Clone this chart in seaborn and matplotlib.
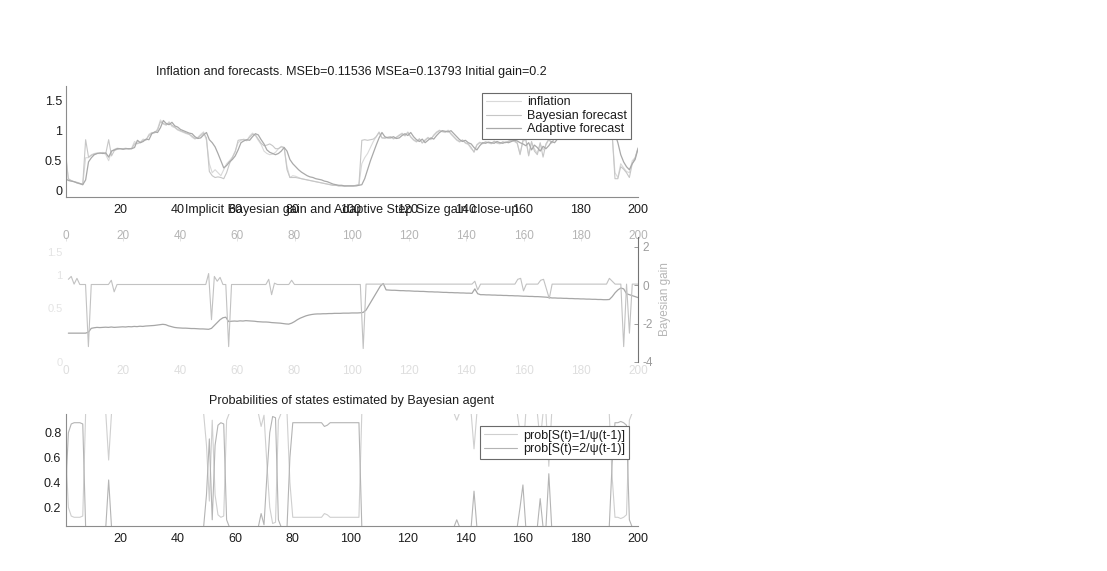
import matplotlib
matplotlib.use("Agg")
import matplotlib.pyplot as plt
import seaborn as sns

# ---------------------------------------------------------------- data
t = list(range(1, 201))

inflation = [
    0.68, 0.18, 0.16, 0.15, 0.13, 0.11, 0.10, 0.55, 0.55, 0.60, 0.62, 0.63, 0.62, 0.64, 0.60, 0.50, 0.66, 0.69, 0.71, 0.70,
    0.70, 0.71, 0.69, 0.71, 0.82, 0.78, 0.81, 0.86, 0.84, 0.94, 0.97, 0.96, 1.03, 1.18, 1.11,
    1.09, 1.15, 1.07, 1.05, 1.01, 0.99, 0.97, 0.95, 0.94, 0.89, 0.86, 0.89, 0.94, 0.98, 0.84, 0.45, 0.30, 0.35,
    0.30, 0.25, 0.35, 0.45, 0.50, 0.56, 0.66, 0.80, 0.84,
    0.86, 0.83, 0.91, 0.96, 0.92, 0.84, 0.77, 0.66, 0.62, 0.60, 0.61, 0.64, 0.70, 0.74, 0.72, 0.40, 0.22, 0.25,
    0.24, 0.22, 0.20, 0.19, 0.18, 0.17, 0.16, 0.15, 0.14, 0.13, 0.12, 0.11, 0.10, 0.09, 0.09, 0.08, 0.08, 0.07, 0.08, 0.08,
    0.08, 0.09, 0.10, 0.45,
    0.55, 0.62, 0.72, 0.82, 0.90, 0.98, 0.88,
    0.87, 0.89, 0.90, 0.86, 0.89, 0.93, 0.96, 0.91, 0.98, 0.89, 0.84, 0.81, 0.87, 0.79, 0.85, 0.89, 0.85, 0.93, 0.98,
    1.01, 0.98, 0.97, 1.01, 0.94, 0.89, 0.84, 0.81, 0.85, 0.79, 0.77, 0.70, 0.66, 0.77, 0.81,
    0.78, 0.82, 0.80, 0.78, 0.83, 0.79, 0.78, 0.82, 0.80, 0.83, 0.85, 0.82, 0.79, 0.62, 0.82,
    0.85, 0.60, 0.80, 0.70, 0.62, 0.78, 0.68, 0.76, 0.85, 0.79, 0.88, 0.89, 0.86, 0.91, 0.93,
    0.89, 0.94, 0.96, 0.93, 0.97, 0.94, 0.98, 0.95, 0.94, 0.93, 0.96, 0.92, 0.95, 0.96, 0.97, 0.94, 0.30,
    0.22, 0.45, 0.38, 0.32, 0.30, 0.50, 0.55, 0.72,
]

bayes_forecast = [
    0.60, 0.20, 0.17, 0.15, 0.14, 0.12, 0.11, 0.85, 0.56, 0.59, 0.61, 0.62, 0.62, 0.63, 0.62, 0.85, 0.58, 0.67, 0.69, 0.70,
    0.70, 0.70, 0.70, 0.70, 0.78, 0.79, 0.80, 0.84, 0.85, 0.92, 0.96, 0.97, 1.01, 1.15, 1.12,
    1.10, 1.13, 1.09, 1.06, 1.02, 1.00, 0.98, 0.96, 0.94, 0.91, 0.87, 0.88, 0.92, 0.96, 0.88, 0.32, 0.25, 0.22,
    0.23, 0.22, 0.20, 0.30, 0.45, 0.55, 0.65, 0.84, 0.85,
    0.85, 0.84, 0.89, 0.94, 0.93, 0.86, 0.79, 0.75, 0.76, 0.78, 0.75, 0.70, 0.70, 0.73, 0.72, 0.35, 0.22, 0.22,
    0.22, 0.21, 0.20, 0.19, 0.18, 0.17, 0.16, 0.15, 0.14, 0.13, 0.12, 0.11, 0.10, 0.09, 0.09, 0.08, 0.08, 0.08, 0.08, 0.08,
    0.08, 0.09, 0.10, 0.84,
    0.85, 0.84, 0.85, 0.86, 0.90, 0.97, 0.88,
    0.88, 0.89, 0.90, 0.87, 0.89, 0.92, 0.95, 0.92, 0.97, 0.90, 0.85, 0.82, 0.86, 0.80, 0.84, 0.88, 0.86, 0.92, 0.97,
    1.00, 0.99, 0.98, 1.00, 0.95, 0.90, 0.85, 0.82, 0.84, 0.80, 0.78, 0.72, 0.64, 0.76, 0.80,
    0.79, 0.81, 0.80, 0.79, 0.82, 0.80, 0.79, 0.81, 0.80, 0.82, 0.84, 0.83, 0.80, 0.60, 0.84,
    0.86, 0.58, 0.82, 0.66, 0.60, 0.80, 0.56, 0.78, 0.86, 0.80, 0.87, 0.88, 0.87, 0.90, 0.92,
    0.90, 0.93, 0.95, 0.94, 0.96, 0.95, 0.97, 0.96, 0.95, 0.94, 0.95, 0.93, 0.94, 0.95, 0.96, 0.95, 0.20,
    0.20, 0.40, 0.36, 0.30, 0.22, 0.45, 0.55, 0.70,
]

adaptive_forecast = [
    0.20, 0.17, 0.16, 0.15, 0.13, 0.12, 0.10, 0.18, 0.48, 0.55, 0.60, 0.62, 0.63, 0.62, 0.63, 0.56, 0.66, 0.68, 0.70, 0.70,
    0.69, 0.70, 0.70, 0.70, 0.72, 0.84, 0.80, 0.82, 0.86, 0.85, 0.95, 0.98, 0.97, 1.05, 1.17,
    1.12, 1.10, 1.14, 1.08, 1.06, 1.02, 1.00, 0.98, 0.96, 0.95, 0.90, 0.87, 0.88, 0.93, 0.97, 0.85, 0.80, 0.73,
    0.62, 0.50, 0.38, 0.42, 0.48, 0.52, 0.58, 0.68, 0.80,
    0.83, 0.85, 0.84, 0.90, 0.95, 0.93, 0.85, 0.78, 0.68, 0.64, 0.62, 0.60, 0.62, 0.66, 0.72, 0.66, 0.52, 0.45,
    0.40, 0.35, 0.31, 0.28, 0.25, 0.23, 0.22, 0.20, 0.19, 0.18, 0.16, 0.15, 0.13, 0.11, 0.10, 0.09, 0.09, 0.08, 0.08, 0.08,
    0.08, 0.08, 0.09, 0.10,
    0.20, 0.35, 0.50, 0.63, 0.76, 0.88, 0.97,
    0.90, 0.88, 0.88, 0.90, 0.87, 0.88, 0.92, 0.95, 0.92, 0.97, 0.90, 0.85, 0.82, 0.86, 0.80, 0.84, 0.88, 0.86, 0.92,
    0.97, 1.00, 0.99, 0.98, 1.00, 0.95, 0.90, 0.85, 0.82, 0.84, 0.80, 0.78, 0.72, 0.68, 0.75,
    0.80, 0.79, 0.81, 0.80, 0.79, 0.82, 0.80, 0.79, 0.81, 0.80, 0.82, 0.84, 0.83, 0.80, 0.78,
    0.75, 0.80, 0.68, 0.76, 0.72, 0.66, 0.74, 0.70, 0.75, 0.82, 0.80, 0.86, 0.88, 0.87, 0.90,
    0.92, 0.90, 0.93, 0.95, 0.94, 0.96, 0.95, 0.97, 0.96, 0.95, 0.94, 0.95, 0.93, 0.94, 0.95, 0.96, 0.95,
    0.80, 0.60, 0.48, 0.40, 0.35, 0.45, 0.52, 0.70,
]

# adaptive step-size gain, log10 units (left, faint axis of the close-up)
adaptive_gain_log = [
    -2.50, -2.50, -2.50, -2.50, -2.50, -2.50, -2.50, -2.45, -2.25,
    -2.22, -2.20, -2.21, -2.20, -2.19, -2.20, -2.18, -2.20, -2.19, -2.18, -2.17, -2.18, -2.16, -2.17, -2.15, -2.16, -2.14,
    -2.15, -2.13, -2.12, -2.11,
    -2.10, -2.08, -2.06, -2.04, -2.06, -2.12, -2.16, -2.20, -2.22, -2.23,
    -2.24, -2.24, -2.25, -2.26, -2.26, -2.27, -2.28, -2.28, -2.29, -2.30,
    -2.25, -2.10, -1.95, -1.80, -1.70, -1.67,
    -1.90, -1.88, -1.87, -1.88, -1.86, -1.87, -1.85, -1.86, -1.87, -1.88, -1.90, -1.91, -1.92, -1.92, -1.93,
    -1.95, -1.96, -1.97, -1.98, -2.00, -2.02, -2.03, -1.98, -1.90,
    -1.80, -1.72, -1.66, -1.60, -1.56, -1.53, -1.51, -1.50, -1.50, -1.49,
    -1.49, -1.48, -1.48, -1.47, -1.47, -1.47, -1.46, -1.46, -1.46, -1.45, -1.45, -1.45, -1.44, -1.42,
    -1.30, -1.05, -0.80, -0.55, -0.30, -0.05, 0.08,
    -0.25, -0.26, -0.27, -0.27, -0.28, -0.29, -0.29, -0.30, -0.30, -0.31, -0.32, -0.32, -0.33, -0.33, -0.34, -0.35,
    -0.35, -0.36, -0.36, -0.37, -0.38, -0.38, -0.39, -0.39, -0.40, -0.40, -0.41, -0.41, -0.42, -0.42, -0.43,
    -0.20, -0.45, -0.50,
    -0.50, -0.51, -0.51, -0.52, -0.52, -0.53, -0.53, -0.54, -0.54, -0.55, -0.55, -0.56, -0.56, -0.57, -0.58, -0.58,
    -0.59, -0.59, -0.60, -0.60, -0.61, -0.62, -0.63, -0.65, -0.67,
    -0.67, -0.68, -0.68, -0.69, -0.69, -0.70, -0.70, -0.71, -0.71, -0.72, -0.72, -0.73, -0.73, -0.74, -0.74, -0.75,
    -0.75, -0.76, -0.76, -0.75, -0.60, -0.40,
    -0.25, -0.15, -0.20, -0.45, -0.50, -0.55, -0.60, -0.65,
]

# implicit Bayesian gain (right axis of the close-up)
bayes_gain = [
    0.30, 0.45, 0.05, 0.35, 0.03, 0.03, 0.03, -3.20,
    0.03, 0.03, 0.03, 0.03, 0.03, 0.03, 0.03,
    0.25, -0.35, 0.03,
    0.03, 0.03, 0.03, 0.03, 0.03, 0.03, 0.03, 0.03, 0.03, 0.03, 0.03, 0.03, 0.03, 0.03, 0.03, 0.03,
    0.03, 0.03, 0.03, 0.03, 0.03, 0.03, 0.03, 0.03, 0.03, 0.03, 0.03, 0.03, 0.03, 0.03, 0.03,
    0.60, -1.80, 0.45, 0.20, 0.40, 0.03, 0.03, -3.20, 0.03,
    0.03, 0.03, 0.03, 0.03, 0.03, 0.03, 0.03, 0.03, 0.03, 0.03, 0.03, 0.03,
    0.30, -0.50, 0.10, 0.03,
    0.03, 0.03, 0.03, 0.03,
    0.25, 0.03,
    0.03, 0.03, 0.03, 0.03, 0.03, 0.03, 0.03, 0.03, 0.03, 0.03, 0.03, 0.03, 0.03, 0.03, 0.03, 0.03,
    0.03, 0.03, 0.03, 0.03, 0.03, 0.03, 0.03,
    -3.30,
    0.05, 0.05, 0.05, 0.05, 0.05, 0.05, 0.05, 0.05, 0.05, 0.05, 0.05, 0.05, 0.05, 0.05, 0.05, 0.05, 0.05, 0.05, 0.05,
    0.05, 0.05, 0.05, 0.05, 0.05, 0.05, 0.05, 0.05, 0.05, 0.05, 0.05, 0.05, 0.05, 0.05, 0.05, 0.05, 0.05, 0.05, 0.05,
    0.20, -0.25, 0.05,
    0.05, 0.05, 0.05, 0.05, 0.05, 0.05, 0.05, 0.05, 0.05, 0.05, 0.05, 0.05,
    0.30, 0.35, -0.30, 0.05,
    0.05, 0.05, 0.05, 0.05,
    0.25, 0.30, -0.20, -0.70, 0.05,
    0.05, 0.05, 0.05, 0.05, 0.05, 0.05, 0.05, 0.05, 0.05, 0.05, 0.05, 0.05, 0.05, 0.05, 0.05, 0.05, 0.05, 0.05, 0.05,
    0.35, 0.20, 0.05, 0.05, 0.05, -3.20, 0.05, -2.50, 0.05, 0.05, 0.05,
]

prob_s1 = [
    0.70, 0.20, 0.13, 0.12, 0.12, 0.12, 0.13, 0.96,
    0.96, 0.96, 0.96, 0.96, 0.96, 0.96, 0.96,
    0.58, 0.96,
    0.96, 0.96, 0.96, 0.96, 0.96, 0.96, 0.96, 0.96, 0.96, 0.96, 0.96, 0.96, 0.96, 0.96, 0.96, 0.96,
    0.96, 0.96, 0.96, 0.96, 0.96, 0.96, 0.96, 0.96, 0.96, 0.96, 0.96, 0.96, 0.96, 0.96, 0.96, 0.96,
    0.70, 0.25, 0.90, 0.30, 0.14, 0.12, 0.13, 0.90, 0.96,
    0.96, 0.96, 0.96, 0.96, 0.96, 0.96, 0.96, 0.96, 0.96,
    0.96, 0.85, 0.94, 0.55, 0.20, 0.07, 0.08, 0.90, 0.96, 0.96, 0.96,
    0.40, 0.12, 0.12, 0.12, 0.12, 0.12, 0.12, 0.12, 0.12, 0.12, 0.12, 0.12, 0.15, 0.14,
    0.12, 0.12, 0.12, 0.12, 0.12, 0.12, 0.12, 0.12, 0.12, 0.12, 0.12, 0.96,
    0.96, 0.96, 0.96, 0.96, 0.96, 0.96, 0.96, 0.96, 0.96, 0.96, 0.96, 0.96, 0.96, 0.96, 0.96, 0.96,
    0.96, 0.96, 0.96, 0.96, 0.96, 0.96, 0.96, 0.96, 0.96, 0.96, 0.96, 0.96, 0.96, 0.96, 0.96, 0.96,
    0.90, 0.96,
    0.96, 0.96, 0.96, 0.96,
    0.67, 0.96,
    0.96, 0.96, 0.96, 0.96, 0.96, 0.96, 0.96, 0.96, 0.96, 0.96, 0.96, 0.96, 0.96, 0.96,
    0.80, 0.62, 0.96,
    0.96, 0.96, 0.96, 0.96,
    0.73, 0.96, 0.96, 0.53, 0.96,
    0.96, 0.96, 0.96, 0.96, 0.96, 0.96, 0.96, 0.96, 0.96, 0.96, 0.96, 0.96, 0.96, 0.96, 0.96, 0.96, 0.96, 0.96, 0.96, 0.96,
    0.45, 0.12, 0.12, 0.11, 0.12, 0.14, 0.90, 0.96, 0.96, 0.96,
]

prob_s2 = [
    0.30, 0.80, 0.87, 0.88, 0.88, 0.88, 0.87, 0.04,
    0.04, 0.04, 0.04, 0.04, 0.04, 0.04, 0.04,
    0.42, 0.04,
    0.04, 0.04, 0.04, 0.04, 0.04, 0.04, 0.04, 0.04, 0.04, 0.04, 0.04, 0.04, 0.04, 0.04, 0.04, 0.04,
    0.04, 0.04, 0.04, 0.04, 0.04, 0.04, 0.04, 0.04, 0.04, 0.04, 0.04, 0.04, 0.04, 0.04, 0.04, 0.04,
    0.30, 0.75, 0.10, 0.70, 0.86, 0.88, 0.87, 0.10, 0.04,
    0.04, 0.04, 0.04, 0.04, 0.04, 0.04, 0.04, 0.04, 0.04,
    0.04, 0.15, 0.06, 0.45, 0.80, 0.93, 0.92, 0.10, 0.04, 0.04, 0.04,
    0.60, 0.88, 0.88, 0.88, 0.88, 0.88, 0.88, 0.88, 0.88, 0.88, 0.88, 0.88, 0.85, 0.86,
    0.88, 0.88, 0.88, 0.88, 0.88, 0.88, 0.88, 0.88, 0.88, 0.88, 0.88, 0.04,
    0.04, 0.04, 0.04, 0.04, 0.04, 0.04, 0.04, 0.04, 0.04, 0.04, 0.04, 0.04, 0.04, 0.04, 0.04, 0.04,
    0.04, 0.04, 0.04, 0.04, 0.04, 0.04, 0.04, 0.04, 0.04, 0.04, 0.04, 0.04, 0.04, 0.04, 0.04, 0.04,
    0.10, 0.04,
    0.04, 0.04, 0.04, 0.04,
    0.33, 0.04,
    0.04, 0.04, 0.04, 0.04, 0.04, 0.04, 0.04, 0.04, 0.04, 0.04, 0.04, 0.04, 0.04, 0.04,
    0.20, 0.38, 0.04,
    0.04, 0.04, 0.04, 0.04,
    0.27, 0.04, 0.04, 0.47, 0.04,
    0.04, 0.04, 0.04, 0.04, 0.04, 0.04, 0.04, 0.04, 0.04, 0.04, 0.04, 0.04, 0.04, 0.04, 0.04, 0.04, 0.04, 0.04, 0.04, 0.04,
    0.55, 0.88, 0.88, 0.89, 0.88, 0.86, 0.10, 0.04, 0.04, 0.04,
]

title_top = "Inflation and forecasts. MSEb=0.11536 MSEa=0.13793 Initial gain=0.2"
title_mid = "Implicit Bayesian gain and Adaptive Step Size gain close-up"
title_bot = "Probabilities of states estimated by Bayesian agent"
legend_top = ["inflation", "Bayesian forecast", "Adaptive forecast"]
legend_bot = ["prob[S(t)=1/\u03c8(t-1)]", "prob[S(t)=2/\u03c8(t-1)]"]

time_ticks = [20, 40, 60, 80, 100, 120, 140, 160, 180, 200]
ghost_ticks = [0, 20, 40, 60, 80, 100, 120, 140, 160, 180, 200]
top_yticks = [0, 0.5, 1, 1.5]
top_ytick_labels = ["0", "0.5", "1", "1.5"]
gain_yticks = [2, 0, -2, -4]
gain_ytick_labels = ["2", "0", "-2", "-4"]
ghost_yticks = [1.7, 0.5, -1.2, -4.0]
ghost_ytick_labels = ["1.5", "1", "0.5", "0"]
prob_yticks = [0.2, 0.4, 0.6, 0.8]
prob_ytick_labels = ["0.2", "0.4", "0.6", "0.8"]

# ---------------------------------------------------------------- style
sns.set_theme(style="white")
plt.rcParams["font.family"] = ["Liberation Sans", "DejaVu Sans"]
plt.rcParams["axes.unicode_minus"] = False

W, H = 1107, 571
fig = plt.figure(figsize=(W / 100, H / 100), dpi=100)
fig.patch.set_facecolor("white")


def box(left, top, right, bottom):
    return [left / W, 1 - bottom / H, (right - left) / W, (bottom - top) / H]


TXT = "#1c1c1c"
SPINE = "#8c8c8c"
XL, XR = 65.5, 638


def matlab_axes(ax):
    for s in ("top", "right"):
        ax.spines[s].set_visible(False)
    for s in ("left", "bottom"):
        ax.spines[s].set_color(SPINE)
        ax.spines[s].set_linewidth(0.8)
    ax.tick_params(direction="in", length=3.5, width=0.6, color=SPINE,
                   labelsize=9, labelcolor=TXT)
    ax.set_facecolor("white")


def framed_legend(ax, anchor_px, handlelength):
    leg = ax.legend(loc="upper right",
                    bbox_to_anchor=(anchor_px[0] / W, 1 - anchor_px[1] / H),
                    bbox_transform=fig.transFigure, borderaxespad=0, fontsize=9,
                    frameon=True, fancybox=False, edgecolor="#6a6a6a", framealpha=1,
                    handlelength=handlelength, handletextpad=0.5,
                    labelspacing=0.12, borderpad=0.3)
    leg.get_frame().set_linewidth(0.8)
    for txt in leg.get_texts():
        txt.set_color(TXT)
    return leg


# ---------------------------------------------------------------- top panel
ax1 = fig.add_axes(box(XL, 86, XR, 196.7))
sns.lineplot(x=t, y=inflation, ax=ax1, color="#d9d9d9", lw=0.8, label=legend_top[0])
sns.lineplot(x=t, y=bayes_forecast, ax=ax1, color="#c6c6c6", lw=0.8, label=legend_top[1])
sns.lineplot(x=t, y=adaptive_forecast, ax=ax1, color="#a9a9a9", lw=0.9, label=legend_top[2])
ax1.set_xlim(1, 200)
ax1.set_ylim(-0.1, 1.745)
ax1.set_xticks(time_ticks)
ax1.set_yticks(top_yticks)
ax1.set_yticklabels(top_ytick_labels)
matlab_axes(ax1)
ax1.tick_params(axis="x", pad=5)
ax1.tick_params(axis="y", pad=2.5)
framed_legend(ax1, (630.7, 92.7), 2.8)

# ---------------------------------------------------------------- middle panel
axg = fig.add_axes(box(XL, 237, XR, 362))
sns.lineplot(x=t, y=adaptive_gain_log, ax=axg, color="#a6a6a6", lw=0.9)
axg.set_xlim(0, 200)
axg.set_ylim(-4, 2.5)
for s in axg.spines.values():
    s.set_visible(False)
axg.set_xticks(ghost_ticks)
axg.set_yticks(ghost_yticks)
axg.set_yticklabels(ghost_ytick_labels)
axg.tick_params(axis="x", direction="in", length=3, width=0.5, color="#e4e4e4",
                labelsize=8.5, labelcolor="#dedede", pad=2.2)
axg.tick_params(axis="y", direction="in", length=0, labelsize=8,
                labelcolor="#e4e4e4", pad=2)
sec = axg.secondary_xaxis("top")
sec.set_xticks(ghost_ticks)
sec.tick_params(axis="x", direction="in", length=3, width=0.5, color="#d8d8d8",
                labelsize=8.5, labelcolor="#b4b4b4", pad=-3.5)
for s in sec.spines.values():
    s.set_visible(False)

axr = axg.twinx()
sns.lineplot(x=t, y=bayes_gain, ax=axr, color="#c2c2c2", lw=0.8)
axr.set_ylim(-4, 2.5)
axr.set_xlim(0, 200)
for s in ("top", "left", "bottom"):
    axr.spines[s].set_visible(False)
axr.spines["right"].set_color("#747474")
axr.spines["right"].set_linewidth(0.8)
axr.set_yticks(gain_yticks)
axr.set_yticklabels(gain_ytick_labels)
axr.tick_params(axis="y", direction="in", length=3, width=0.6, color="#8a8a8a",
                labelsize=8.5, labelcolor="#9c9c9c", pad=3)
axr.set_ylabel("Bayesian gain", color="#b6b6b6", fontsize=8.5, rotation=90)
axr.yaxis.set_label_coords(1.036, 0.5)

# ---------------------------------------------------------------- bottom panel
ax3 = fig.add_axes(box(XL, 414, XR, 526))
sns.lineplot(x=t, y=prob_s1, ax=ax3, color="#cfcfcf", lw=0.8, label=legend_bot[0])
sns.lineplot(x=t, y=prob_s2, ax=ax3, color="#b4b4b4", lw=0.8, label=legend_bot[1])
ax3.set_xlim(1, 200)
ax3.set_ylim(0.05, 0.95)
ax3.set_xticks(time_ticks)
ax3.set_yticks(prob_yticks)
ax3.set_yticklabels(prob_ytick_labels)
matlab_axes(ax3)
ax3.tick_params(axis="x", pad=4.8)
ax3.tick_params(axis="y", pad=3)
framed_legend(ax3, (629.3, 426), 2.7)

# ---------------------------------------------------------------- titles
xc = (XL + XR) / 2 / W
fig.text(xc, 1 - 75.4 / H, title_top, ha="center", va="baseline", fontsize=9, color=TXT)
fig.text(xc, 1 - 212.9 / H, title_mid, ha="center", va="baseline", fontsize=9, color=TXT)
fig.text(xc, 1 - 404.4 / H, title_bot, ha="center", va="baseline", fontsize=9, color=TXT)

fig.savefig("out.png", dpi=100, facecolor="white")
